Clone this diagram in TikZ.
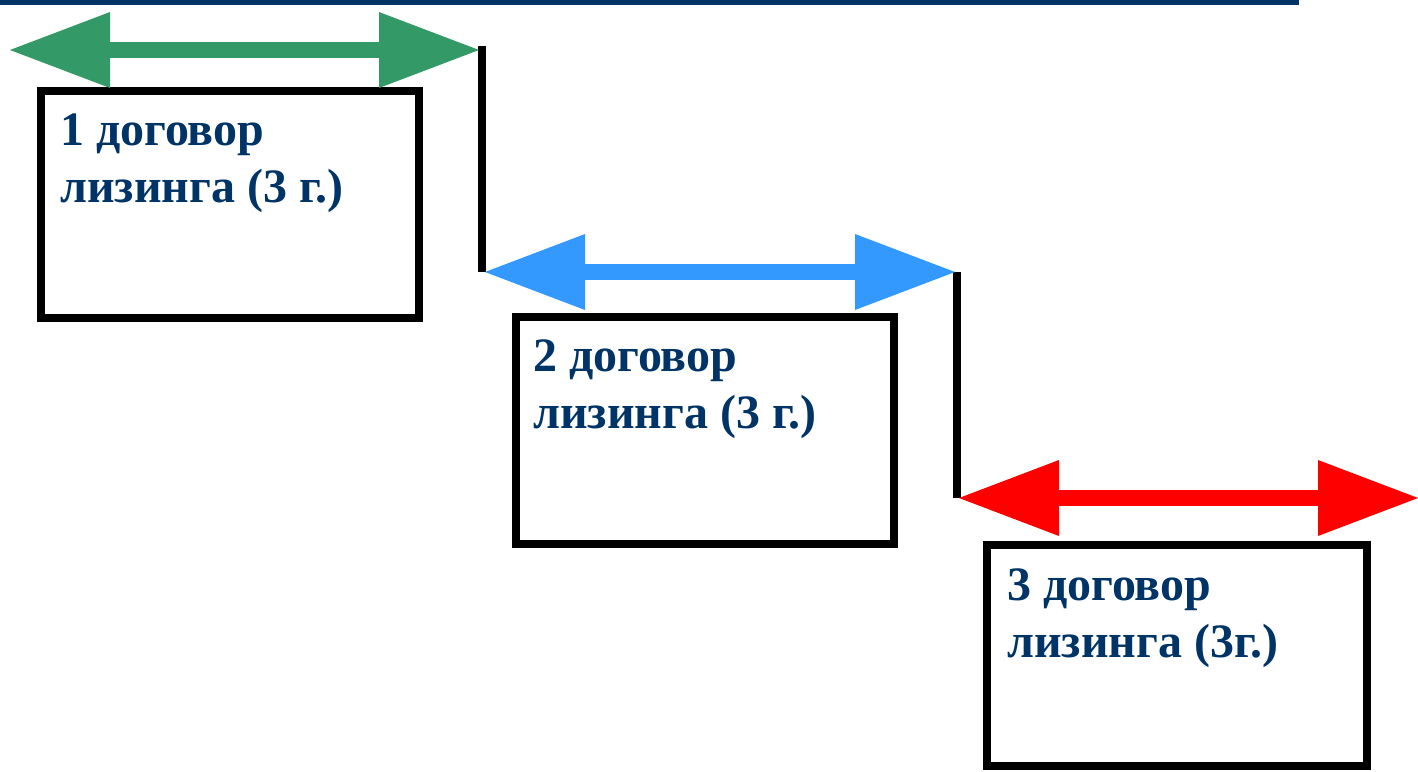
\documentclass[tikz,border=0pt]{standalone}
\usepackage{fontspec}
\setmainfont{Liberation Serif}
\usetikzlibrary{arrows.meta}
\definecolor{leasenavy}{RGB}{0,51,102}
\definecolor{leasegreen}{RGB}{51,153,102}
\definecolor{leaseblue}{RGB}{51,153,255}
\definecolor{leasered}{RGB}{255,0,0}
\tikzset{leasebox/.style={draw=black,line width=8pt,inner sep=0pt,
		 minimum width=378pt,minimum height=227pt}}
\tikzset{leaselabel/.style={anchor=base west,inner sep=0pt,align=left,
		 text=leasenavy,font=\fontsize{48}{57}\selectfont\bfseries}}
\tikzset{leasearrow/.style={line width=16pt,color=#1,
		 arrows={Triangle[length=100pt,width=76pt,line width=0pt]-Triangle[length=100pt,width=76pt,line width=0pt]}},
		 leasearrow/.default=leasegreen}
\tikzset{stepline/.style={draw=black,line width=8pt}}

\begin{document}
\begin{tikzpicture}[x=1pt,y=-1pt]
	\useasboundingbox (0,0) rectangle (1418,771);
	\fill[leasenavy] (0,0) rectangle (1299,5); % top bar
	% boxes
	\node[leasebox] (box1) at (230,204.5) {};
	\node[leasebox] (box2) at (705,430.5) {};
	\node[leasebox,minimum width=380pt,minimum height=221pt] (box3) at (1177,655.5) {};
	% base = last line
	\node[leaselabel] (txt1) at (60,202) {1 договор\\лизинга (3 г.)};
	\node[leaselabel] (txt2) at (533,428) {2 договор\\лизинга (3 г.)};
	\node[leaselabel] (txt3) at (1007,657) {3 договор\\лизинга (3г.)};
	% arrow ends
	\coordinate (g1) at (10,50);
	\coordinate (g2) at (479,50);
	\coordinate (b1) at (485,272);
	\coordinate (b2) at (955,272);
	\coordinate (r1) at (959,498);
	\coordinate (r2) at (1418,498);
	\coordinate (k1) at (482,46);
	\coordinate (k2) at (957,272);
	% steps
	\draw[stepline] (k1) -- (k1 |- b1);
	\draw[stepline] (k2) -- (k2 |- r1);
	% periods
	\draw[leasearrow] (g1) -- (g2);
	\draw[leasearrow=leaseblue] (b1) -- (b2);
	\draw[leasearrow=leasered] (r1) -- (r2);
\end{tikzpicture}
\end{document}
